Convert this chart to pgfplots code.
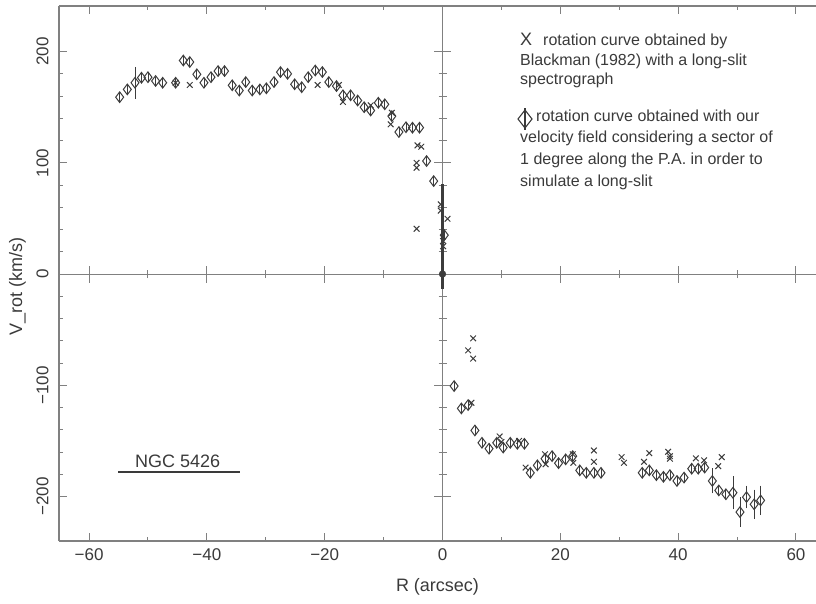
\documentclass[border=0pt]{standalone}
\usepackage{fontspec}
\setmainfont{Liberation Sans}
\usepackage{pgfplots}
\pgfplotsset{compat=1.18}
\usepackage{pgfplotstable}
\definecolor{axgray}{HTML}{808080}
\definecolor{datgray}{HTML}{3C3C3C}
\definecolor{txtgray}{HTML}{3A3A3A}

\pgfplotstableread{
x y e
-54.8 159 4
-53.5 166 4
-52.2 172 4
-51.1 176.5 4
-50.0 177 4
-48.7 173.6 4
-47.5 172 4
-45.3 172 4
-44.0 192 4
-42.9 190.6 4
-41.7 179.6 4
-40.5 172 4
-39.3 177 4
-38.1 182.5 4
-37.0 182.5 4
-35.7 169.7 4
-34.5 165 4
-33.4 172.6 4
-32.3 165 4
-31.0 166 4
-29.9 167 4
-28.6 172.6 4
-27.5 181.6 4
-26.3 180 4
-25.1 170.6 4
-23.9 168 4
-22.8 177 4
-21.6 183 4
-20.4 181.6 4
-19.3 172.6 4
-18.0 169 4
-16.9 160.7 4
-15.6 160.7 4
-14.4 156 4
-13.3 150 4
-12.2 147 4
-10.9 154 4
-9.8 152.6 4
-8.6 142 4
-7.4 127.7 4
-6.2 132 4
-5.1 131.6 4
-3.9 131.6 4
-2.7 101.6 4
-1.5 83.6 4
0.3 35 4
1.97 -100.7 4
3.2 -120.8 4
4.35 -117.8 4
5.5 -140.6 4
6.7 -151.7 4
7.9 -157 4
9.2 -151.7 4
10.3 -156 4
11.5 -151.7 4
12.7 -152.6 4
13.9 -152.6 4
14.9 -178.7 4
16.1 -172 4
17.4 -166 4
18.6 -163.7 4
19.7 -170 4
20.9 -166.6 4
22.1 -163.7 4
23.3 -176.5 4
24.4 -178.7 4
25.7 -178.7 4
26.9 -178.7 4
33.9 -178.7 4
35.1 -176.5 4
36.3 -180.8 4
37.5 -182.3 4
38.6 -180.8 4
39.8 -186 4
41.0 -183 4
42.3 -175 4
43.4 -175 4
44.5 -174 4
45.8 -186 4
46.9 -194.5 4
48.1 -198 4
49.3 -196.6 4
50.5 -214 4
51.6 -200.5 4
52.9 -207 4
54.0 -203.5 4
}\diamondsdata

\pgfplotstableread{
x y e
-52.2 172 12
45.8 -186 9
49.3 -196.6 12.7
50.5 -214 11
51.6 -200.5 8
52.9 -207 11
54.0 -203.5 11
}\errdata

\pgfplotstableread{
x y
-45.3 172
-42.9 170
-21.2 170
-17.6 170
-16.9 154.7
-12.2 151.7
-8.6 145
-8.8 134.6
-4.25 115.7
-3.6 114.5
-4.4 100
-4.4 95.6
-4.4 40.7
-0.3 62.7
-0.3 57
0.85 49.7
0.1 29.7
0.1 25
4.35 -68.6
5.2 -57.8
5.2 -76
4.9 -115.7
9.7 -146
10.0 -151
13.0 -150
14.1 -174
17.4 -162
17.5 -171
22.1 -162
22.2 -169.7
25.7 -158.6
25.7 -168.8
30.4 -164.6
30.8 -169.7
34.2 -168.8
35.1 -161
38.3 -159.8
38.6 -163.7
38.6 -166
43.0 -165.7
44.4 -167.5
46.8 -172.7
47.4 -164.6
}\crossdata

\begin{document}
\begin{tikzpicture}
\useasboundingbox (-59pt,-62pt) rectangle (757pt,541pt);
\pgfplotsset{common/.style={
  width=757pt, height=535pt, scale only axis,
  xmin=-65.1, xmax=63.4, ymin=-240, ymax=241,
  xtick={-60,-40,...,60}, ytick={-200,-100,0,100,200},
  minor x tick num=1, minor y tick num=4,
  clip=false,
}}
% middle cross axis
\begin{axis}[common, at={(0pt,0pt)}, anchor=south west,
  axis lines*=middle,
  axis line style={-, axgray, line width=1.1pt},
  tick align=center, major tick length=17pt, minor tick length=8pt,
  tick style={axgray, line width=1pt},
  xticklabels={}, yticklabels={},
]
\addplot[draw=none] coordinates {(0,0)};
\end{axis}
% main box axis with data
\begin{axis}[common, at={(0pt,0pt)}, anchor=south west,
  axis x line*=box, axis y line*=left,
  axis line style={axgray, line width=1.1pt},
  tick align=inside, major tick length=8pt, minor tick length=4pt,
  tick style={axgray, line width=1pt},
  xticklabels={−60,−40,−20,0,20,40,60},
  yticklabels={−200,−100,0,100,200},
  ticklabel style={font=\fontsize{17}{17}\selectfont, text=txtgray},
  xticklabel style={yshift=-4pt},
  yticklabel style={rotate=90, anchor=south, yshift=7pt},
  xlabel={R (arcsec)}, ylabel={V\_rot (km/s)},
  label style={font=\fontsize{18}{18}\selectfont, text=txtgray},
  xlabel style={at={(axis description cs:0.5,0)}, anchor=center, yshift=-46pt},
  ylabel style={at={(axis description cs:-0.055,0.476)}, anchor=center},
]
\addplot[draw=none, mark=none, forget plot,
  error bars/.cd, y dir=both, y explicit,
  error bar style={datgray, line width=2.6pt}, error mark=none]
  coordinates {(0,34) +- (0,47)};
\addplot[only marks, mark=diamond, mark size=5.3pt, datgray,
  mark options={line width=1pt, fill=none},
  error bars/.cd, y dir=both, y explicit,
  error bar style={datgray, line width=0.8pt}, error mark=none]
  table[x=x, y=y, y error=e] {\diamondsdata};
\addplot[draw=none, mark=none,
  error bars/.cd, y dir=both, y explicit,
  error bar style={datgray, line width=0.9pt},
  error mark options={datgray, line width=0.9pt, mark size=2.5pt}]
  table[x=x, y=y, y error=e] {\errdata};
\addplot[only marks, mark=x, mark size=4pt, datgray,
  mark options={line width=1pt}]
  table[x=x, y=y] {\crossdata};
\addplot[only marks, mark=*, mark size=3.4pt, datgray]
  coordinates {(0,0)};
\end{axis}
% legend text (picture coordinates: px -> (px-59, 541-py))
\begin{scope}[every node/.style={text=txtgray, inner sep=0pt, anchor=base west, font=\fontsize{16}{16}\selectfont}]
\node[font=\fontsize{18}{18}\selectfont] at (461pt,495pt) {X};
\node at (484pt,495pt) {rotation curve obtained by};
\node at (461pt,475pt) {Blackman (1982) with a long-slit};
\node at (461pt,456pt) {spectrograph};
\node at (477pt,419.3pt) {rotation curve obtained with our};
\node at (461pt,398pt) {velocity field considering a sector of};
\node at (461pt,376pt) {1 degree along the P.A. in order to};
\node at (461pt,354.3pt) {simulate a long-slit};
\node[font=\fontsize{18}{18}\selectfont] at (76pt,74pt) {NGC 5426};
\end{scope}
\draw[txtgray, line width=1.2pt] (466pt,411pt) -- (466pt,433pt);
\draw[txtgray, line width=1.1pt] (466pt,413pt) -- (473pt,422pt) -- (466pt,431pt) -- (459pt,422pt) -- cycle;
\draw[txtgray, line width=1.2pt] (59pt,69pt) -- (181pt,69pt);
\end{tikzpicture}
\end{document}
